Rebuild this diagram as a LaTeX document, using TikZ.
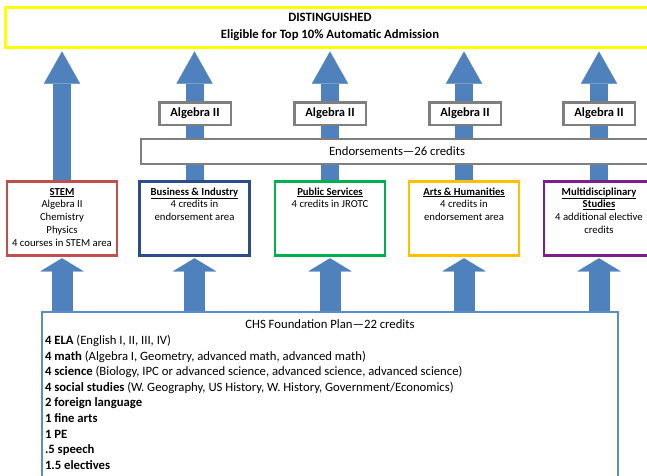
\documentclass[tikz,border=0pt]{standalone}
\usepackage{fontspec}
\setmainfont{Carlito}
\usetikzlibrary{arrows.meta}
\usetikzlibrary{backgrounds}

\definecolor{arrowblue}{HTML}{4F81BD}
\definecolor{distyellow}{HTML}{FFFF00}
\definecolor{boxgray}{HTML}{7F7F7F}
\definecolor{stemred}{HTML}{C0504D}
\definecolor{bizblue}{HTML}{2C4D87}
\definecolor{pubgreen}{HTML}{00B050}
\definecolor{artsgold}{HTML}{FFC000}
\definecolor{multipurple}{HTML}{7B1F8A}
\definecolor{planblue}{HTML}{5B8CC8}

\newcommand{\areatext}[1]{\parbox[t][68pt][t]{104pt}{\centering\rule{0pt}{10.5pt}#1}}

\tikzset{
  area/.style={draw, line width=2.5pt, fill=white, inner xsep=3pt, inner ysep=3pt,
    font=\fontsize{10.7}{12.8}\selectfont, anchor=north},
  algbox/.style={draw=boxgray, line width=2.5pt, fill=white, minimum width=71.5pt,
    minimum height=22.5pt, inner sep=0pt, font=\fontsize{12.5}{15}\selectfont\bfseries},
  tallup/.style={arrowblue, line width=18pt, shorten >=3pt,
    -{Triangle[width=36pt,length=32pt,line width=0.01pt]}},
  shortup/.style={arrowblue, line width=21pt, shorten >=1.5pt,
    -{Triangle[width=43pt,length=13pt,line width=0.01pt]}},
}

\begin{document}
\begin{tikzpicture}[x=1pt, y=-1pt]
      \useasboundingbox (0,0) rectangle (647,475);
      \clip (0,0) rectangle (647,475);

      % top goal
      \node[draw=distyellow, line width=3pt, fill=white, minimum width=650pt, minimum height=40pt,
        align=center, font=\fontsize{12.7}{17}\selectfont\bfseries] (dist) at (330,27)
        {DISTINGUISHED\\Eligible for Top 10\% Automatic Admission};

      % algebra II requirement
      \foreach \x/\n in {195/alga, 330/algb, 465/algc, 599/algd}
        \node[algbox] (\n) at (\x,113.5) {Algebra II};

      \node[draw=boxgray, line width=2.5pt, fill=white, minimum width=512pt, minimum height=25pt,
        font=\fontsize{12.7}{15}\selectfont] (endorse) at (397,151.5) {Endorsements—26 credits};

      % endorsement areas
      \node[area, draw=stemred] (stem) at (62,180.25)
        {\areatext{\underline{\textbf{STEM}}\\Algebra II\\Chemistry\\Physics\\4 courses in STEM area}};
      \node[area, draw=bizblue] (biz) at (194.5,180.25)
        {\areatext{\underline{\textbf{Business \& Industry}}\\4 credits in\\endorsement area}};
      \node[area, draw=pubgreen] (pub) at (330,180.25)
        {\areatext{\underline{\textbf{Public Services}}\\4 credits in JROTC}};
      \node[area, draw=artsgold] (arts) at (464,180.25)
        {\areatext{\underline{\textbf{Arts \& Humanities}}\\4 credits in\\endorsement area}};
      \node[area, draw=multipurple] (multi) at (599,180.25)
        {\areatext{\underline{\textbf{Multidisciplinary}}\\\underline{\textbf{Studies}}\\4 additional elective\\credits}};

      % foundation plan
      \node[draw=planblue, line width=2pt, fill=white, anchor=north, inner xsep=3pt, inner ysep=8pt,
        font=\fontsize{12.7}{15.6}\selectfont] (plan) at (330,311)
        {\parbox[t][190pt][t]{570pt}{\centering CHS Foundation Plan—22 credits\par\raggedright
          \textbf{4 ELA} (English I, II, III, IV)\\
          \textbf{4 math} (Algebra I, Geometry, advanced math, advanced math)\\
          \textbf{4 science} (Biology, IPC or advanced science, advanced science, advanced science)\\
          \textbf{4 social studies} (W. Geography, US History, W. History, Government/Economics)\\
          \textbf{2 foreign language}\\
          \textbf{1 fine arts}\\
          \textbf{1 PE}\\
          \textbf{.5 speech}\\
          \textbf{1.5 electives}}};

      \begin{pgfonlayer}{background}
        \foreach \n in {stem, biz, pub, arts, multi} {
          \draw[tallup] (\n.north) -- (\n.north |- dist.south);
          \draw[shortup] (plan.north -| \n.south) -- (\n.south);
        }
      \end{pgfonlayer}
    \end{tikzpicture}
\end{document}
